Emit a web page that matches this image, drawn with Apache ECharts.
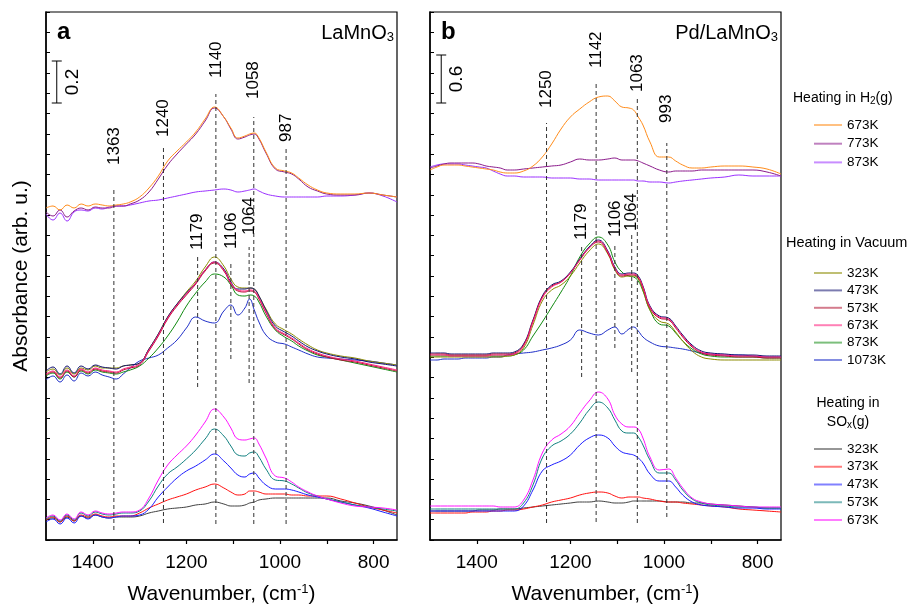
<!DOCTYPE html>
<html>
<head>
<meta charset="utf-8">
<script src="https://cdn.jsdelivr.net/npm/echarts@6/dist/echarts.min.js"></script>
<style>
  html, body { margin: 0; padding: 0; background: #fff; }
  #chart { width: 912px; height: 606px; }
</style>
</head>
<body>
<div id="chart"></div>
<script>
// wavenumber grid (cm-1), shared by every spectrum
const wn = [1500,1485,1470,1455,1440,1425,1410,1395,1380,1365,1350,1335,1320,1300,1280,1260,1240,1220,1200,1180,1160,1140,1120,1105,1090,1075,1065,1055,1045,1030,1010,990,975,960,940,920,900,870,840,810,780,750];

// absorbance, arb. u. (stacked offsets) -- panel a, LaMnO3
const aH2_673 = [332,334,330,335,332,336,334,336,335,334,335,336,338,343,352,364,379,389,398,408,421,433,423,412,402,404,406,407,402,388,372,369,367,362,355,350,347,346,346,347,345,343];
const aH2_773 = [328,324,330,323,329,332,330,333,332,332,334,334,336,340,348,361,375,386,396,406,419,432,423,411,401,403,405,406,401,387,371,368,366,361,353,349,346,345,345,347,345,343];
const aH2_873 = [326,320,327,319,328,330,329,332,331,333,334,334,335,337,339,340,342,344,346,348,349,350,351,350,348,349,350,351,349,346,344,343,343,343,343,343,344,344,345,347,344,338];

const aVac_323 = [168,171,165,172,166,172,170,174,172,172,172,174,175,177,191,206,223,236,248,259,273,283,274,261,253,252,252,251,244,231,216,210,206,201,195,190,187,184,182,179,177,175];
const aVac_473 = [169,173,166,174,167,174,171,175,173,172,171,174,175,177,191,206,223,236,247,257,270,278,271,258,251,251,252,251,244,230,214,208,204,199,193,189,186,183,181,178,176,174];
const aVac_573 = [165,168,162,169,163,170,167,171,169,168,167,170,172,175,189,204,221,234,245,256,269,277,269,256,249,248,249,248,241,227,211,205,201,196,190,186,183,180,178,175,172,169];
const aVac_673 = [166,169,163,170,164,171,168,172,170,169,168,171,173,176,190,205,222,235,246,257,270,278,270,257,250,249,250,249,242,228,212,206,202,197,191,187,184,181,179,176,173,170];
const aVac_873 = [164,167,161,168,163,169,166,170,168,167,166,168,170,174,182,192,204,218,234,247,258,266,263,255,245,244,245,244,238,224,210,203,199,194,189,185,183,180,177,174,171,168];
const aVac_1073 = [160,164,158,165,159,167,164,168,165,163,161,166,172,179,182,185,192,200,212,223,219,217,229,235,225,232,241,230,218,205,198,196,193,190,186,183,182,181,180,179,177,175];

const aSOx_323 = [20,22,18,23,19,24,22,25,23,22,23,23,23,24,27,29,31,32,33,35,36,38,36,34,34,35,37,38,40,41,42,42,42,42,42,42,42,39,37,34,30,25];
const aSOx_373 = [20,23,18,24,19,25,23,26,24,23,24,24,24,27,32,36,40,43,46,50,53,56,52,48,45,46,49,49,48,46,46,46,45,45,44,44,44,41,37,33,30,27];
const aSOx_473 = [18,21,16,22,17,24,21,25,23,22,23,24,24,25,31,43,53,62,69,74,80,86,79,72,65,63,66,67,62,55,51,51,50,48,45,43,41,38,35,32,28,24];
const aSOx_573 = [21,24,19,25,20,27,24,28,26,25,26,27,27,29,39,54,66,73,81,90,101,111,104,94,85,84,87,88,83,71,60,59,56,52,47,44,41,38,35,33,31,29];
const aSOx_673 = [22,25,20,26,21,28,25,29,27,26,27,28,28,30,42,60,75,85,94,105,118,131,123,112,101,100,101,102,96,82,64,62,58,53,48,44,41,37,34,33,32,30];

// panel b, Pd/LaMnO3
const bH2_673 = [370,373,375,375,375,374,373,372,371,370,368,367,367,369,374,383,396,411,423,431,438,443,444,439,433,432,430,423,415,398,383,383,379,375,372,372,373,374,374,373,371,366];
const bH2_773 = [372,374,376,377,377,377,377,376,374,373,372,370,370,371,372,373,374,375,378,381,380,380,381,382,380,380,380,379,377,374,370,368,369,369,369,370,370,370,370,370,368,364];
const bH2_873 = [373,375,376,376,376,375,374,373,372,369,366,364,364,363,363,363,362,362,362,361,361,360,360,360,360,360,360,359,359,358,358,357,358,359,360,361,362,363,365,364,364,364];

const bVac_323 = [183,183,183,183,183,183,183,183,183,183,183,184,185,192,215,239,250,255,264,277,289,296,286,270,263,264,264,261,250,230,219,216,208,199,189,183,181,180,180,180,180,180];
const bVac_473 = [187,187,187,186,186,186,186,186,186,187,187,187,188,196,220,244,255,259,268,281,293,300,289,273,266,267,267,264,254,234,224,222,214,205,195,189,187,186,185,185,184,184];
const bVac_573 = [186,186,186,185,185,185,185,185,185,186,186,186,187,195,219,243,254,258,267,280,292,298,287,271,264,265,265,262,252,232,222,220,212,203,193,187,185,184,183,183,182,182];
const bVac_673 = [185,185,185,184,184,184,184,184,184,185,185,185,186,194,218,242,253,258,267,280,292,299,288,272,265,266,266,263,253,233,223,221,213,204,194,188,186,185,184,184,183,183];
const bVac_873 = [184,184,184,184,184,184,184,184,184,184,184,184,185,190,204,218,233,248,264,283,296,303,295,278,268,264,263,259,249,230,216,214,207,199,191,186,184,183,183,183,182,182];
const bVac_1073 = [180,180,181,181,181,182,182,182,182,183,183,185,186,187,188,190,192,195,200,210,207,205,210,213,206,211,213,209,203,198,194,193,192,191,189,187,186,185,185,184,183,183];

const bSOx_323 = [29,29,29,29,29,29,29,30,30,30,31,31,31,32,33,34,35,36,37,38,38,39,38,37,37,38,39,39,39,39,39,38,38,38,37,37,36,35,34,33,32,32];
const bSOx_373 = [27,27,27,27,27,27,28,28,28,29,29,30,30,31,33,35,38,40,42,45,47,48,47,44,42,43,43,43,42,41,39,38,38,37,36,35,34,33,31,30,29,28];
const bSOx_473 = [29,29,29,29,29,29,29,29,29,29,29,29,29,34,50,69,75,79,85,95,102,105,102,94,88,86,85,82,77,66,59,59,53,45,38,35,34,33,32,32,31,31];
const bSOx_573 = [31,31,31,31,31,31,31,31,31,31,31,31,31,37,55,82,94,99,106,117,130,138,132,120,109,107,107,103,95,80,67,67,60,50,41,37,35,34,33,33,32,32];
const bSOx_673 = [34,34,34,34,34,34,34,34,34,34,33,33,33,40,60,87,100,106,114,127,139,148,141,125,116,113,113,111,102,83,70,71,62,52,42,38,36,35,34,33,33,33];

// band markers: position, dashed line from/to, where the label starts
const aPeakLabels = ['1363','1240','1140','1058','987','1179','1106','1064'];
const aPeakPos = [1355,1249,1137,1056,987,1176,1105,1066];
const aPeakFrom = [10,17,16,16,16,153,181,157];
const aPeakTo = [353,393,446,423,392,283,277,293];
const aPeakText = [375,403,462,441,398,290,291,305];

const bPeakLabels = ['1250','1142','1063','993','1179','1106','1064'];
const bPeakPos = [1251,1145,1057,994,1176,1105,1069];
const bPeakFrom = [17,18,17,23,163,192,168];
const bPeakTo = [417,457,443,397,293,297,307];
const bPeakText = [432,472,448,417,300,303,309];

// scale bars: [wavenumber, from, to]
const aScale = [1477, 437, 479], aScaleLabel = '0.2';
const bScale = [1476, 437, 485], bScaleLabel = '0.6';

const xTicks = [800,900,1000,1100,1200,1300,1400];
const xLabels = [800,1000,1200,1400];

const FONT = '"Liberation Sans", Arial, Helvetica, sans-serif';

var chart = echarts.init(document.getElementById('chart'));

function spectrum(name, vals, color, p) {
  return {
    type: 'line', name: name, xAxisIndex: p, yAxisIndex: p,
    data: wn.map(function (w, i) { return [w, vals[i]]; }),
    symbol: 'none', smooth: 0.45, silent: true,
    lineStyle: { width: 1, color: color }, itemStyle: { color: color }
  };
}

function peaks(p, pos, from, to, at, labels) {
  return {
    type: 'custom', xAxisIndex: p, yAxisIndex: p, z: 5, silent: true, clip: false,
    data: pos.map(function (x, i) { return [x, from[i], to[i], at[i]]; }),
    renderItem: function (params, api) {
      var x = api.value(0);
      var a = api.coord([x, api.value(1)]);
      var b = api.coord([x, api.value(2)]);
      var t = api.coord([x, api.value(3)]);
      return {
        type: 'group', children: [
          { type: 'line', shape: { x1: a[0], y1: a[1], x2: b[0], y2: b[1] },
            style: { stroke: '#333', lineWidth: 1, lineDash: [4, 3] } },
          { type: 'text', x: t[0], y: t[1], rotation: Math.PI / 2,
            style: { text: labels[params.dataIndex], align: 'left', verticalAlign: 'middle',
                     fontSize: 17, fontFamily: FONT, fill: '#000' } }
        ]
      };
    }
  };
}

function scaleBar(p, bar, label) {
  return {
    type: 'custom', xAxisIndex: p, yAxisIndex: p, z: 5, silent: true, clip: false,
    data: [bar],
    renderItem: function (params, api) {
      var a = api.coord([api.value(0), api.value(1)]);
      var b = api.coord([api.value(0), api.value(2)]);
      var st = { stroke: '#000', lineWidth: 1 };
      return {
        type: 'group', children: [
          { type: 'line', shape: { x1: a[0], y1: a[1], x2: b[0], y2: b[1] }, style: st },
          { type: 'line', shape: { x1: a[0] - 5, y1: a[1], x2: a[0] + 5, y2: a[1] }, style: st },
          { type: 'line', shape: { x1: b[0] - 5, y1: b[1], x2: b[0] + 5, y2: b[1] }, style: st },
          { type: 'text', x: a[0] + 16, y: (a[1] + b[1]) / 2, rotation: Math.PI / 2,
            style: { text: label, align: 'center', verticalAlign: 'middle',
                     fontSize: 19, fontFamily: FONT, fill: '#000' } }
        ]
      };
    }
  };
}

var series = [];
[0, 1].forEach(function (p) {
  var d = p === 0
    ? { h673: aH2_673, h773: aH2_773, h873: aH2_873,
        v323: aVac_323, v473: aVac_473, v573: aVac_573, v673: aVac_673, v873: aVac_873, v1073: aVac_1073,
        s323: aSOx_323, s373: aSOx_373, s473: aSOx_473, s573: aSOx_573, s673: aSOx_673 }
    : { h673: bH2_673, h773: bH2_773, h873: bH2_873,
        v323: bVac_323, v473: bVac_473, v573: bVac_573, v673: bVac_673, v873: bVac_873, v1073: bVac_1073,
        s323: bSOx_323, s373: bSOx_373, s473: bSOx_473, s573: bSOx_573, s673: bSOx_673 };
  series.push(
    spectrum('H2 873K', d.h873, '#9b30ff', p),
    spectrum('H2 773K', d.h773, '#8b1a8b', p),
    spectrum('H2 673K', d.h673, '#ff8c1a', p),
    spectrum('Vac 1073K', d.v1073, '#1f2fc8', p),
    spectrum('Vac 873K', d.v873, '#108a10', p),
    spectrum('Vac 323K', d.v323, '#8b8b00', p),
    spectrum('Vac 473K', d.v473, '#101070', p),
    spectrum('Vac 573K', d.v573, '#b01030', p),
    spectrum('Vac 673K', d.v673, '#ff1a7a', p),
    spectrum('SOx 323K', d.s323, '#404040', p),
    spectrum('SOx 373K', d.s373, '#ff1010', p),
    spectrum('SOx 473K', d.s473, '#1a1aff', p),
    spectrum('SOx 573K', d.s573, '#108080', p),
    spectrum('SOx 673K', d.s673, '#ff10ff', p)
  );
});
series.push(
  peaks(0, aPeakPos, aPeakFrom, aPeakTo, aPeakText, aPeakLabels),
  peaks(1, bPeakPos, bPeakFrom, bPeakTo, bPeakText, bPeakLabels),
  scaleBar(0, aScale, aScaleLabel),
  scaleBar(1, bScale, bScaleLabel)
);

function legend(top, gap, names) {
  return {
    orient: 'vertical', left: 814, top: top, padding: 0, itemGap: gap,
    itemWidth: 28, itemHeight: 2, icon: 'rect', selectedMode: false,
    data: names,
    formatter: function (n) { return n.split(' ')[1]; },
    itemStyle: { opacity: 0.55 },
    textStyle: { fontSize: 13.5, lineHeight: 12, color: '#000', fontFamily: FONT }
  };
}

function axisX(i) {
  return {
    gridIndex: i, type: 'value', min: 750, max: 1500, inverse: true,
    axisLine: { show: true, onZero: false, lineStyle: { color: '#000', width: 1.5 } },
    axisTick: { show: true, customValues: xTicks, length: 4, lineStyle: { color: '#000', width: 1.2 } },
    axisLabel: { customValues: xLabels, fontSize: 19, color: '#000', margin: 13, fontFamily: FONT,
                 formatter: function (v) { return String(v); } },
    splitLine: { show: false },
    name: 'Wavenumber, (cm{sup|-1})', nameLocation: 'middle', nameGap: 43,
    nameTextStyle: { fontSize: 21, color: '#000', fontFamily: FONT,
      rich: { sup: { fontSize: 13, color: '#000', fontFamily: FONT, padding: [0, 0, 10, 0] } } }
  };
}

function axisY(i) {
  var ax = {
    gridIndex: i, type: 'value', min: 0, max: 528, interval: 528 / 26,
    axisLine: { show: true, lineStyle: { color: '#000', width: 1.5 } },
    axisTick: { show: true, inside: true, length: 4, lineStyle: { color: '#000', width: 1 } },
    axisLabel: { show: false }, splitLine: { show: false }
  };
  if (i === 0) {
    ax.name = 'Absorbance (arb. u.)';
    ax.nameLocation = 'middle';
    ax.nameGap = 14;
    ax.nameTextStyle = { fontSize: 21, color: '#000', fontFamily: FONT };
  }
  return ax;
}

function txt(x, y, text, size, align, extra) {
  var st = { text: text, fontSize: size, fontFamily: FONT, fill: '#000', align: align, verticalAlign: 'middle' };
  for (var k in extra) st[k] = extra[k];
  return { type: 'text', x: x, y: y, style: st, silent: true };
}

var subRich = function (size) { return { sub: { fontSize: size, fontFamily: FONT, fill: '#000', padding: [9, 0, 0, 0] } }; };

chart.setOption({
  animation: false,
  backgroundColor: '#fff',
  textStyle: { fontFamily: FONT },
  grid: [
    { left: 46, top: 12, width: 351, height: 528, show: true, borderColor: '#000', borderWidth: 1.2, outerBoundsMode: 'none' },
    { left: 430, top: 12, width: 351, height: 528, show: true, borderColor: '#000', borderWidth: 1.2, outerBoundsMode: 'none' }
  ],
  xAxis: [axisX(0), axisX(1)],
  yAxis: [axisY(0), axisY(1)],
  legend: [
    legend(118, 4.7, ['H2 673K', 'H2 773K', 'H2 873K']),
    legend(266, 3.4, ['Vac 323K', 'Vac 473K', 'Vac 573K', 'Vac 673K', 'Vac 873K', 'Vac 1073K']),
    legend(442, 3.75, ['SOx 323K', 'SOx 373K', 'SOx 473K', 'SOx 573K', 'SOx 673K'])
  ],
  graphic: [
    txt(57, 32, 'a', 24, 'left', { fontWeight: 'bold' }),
    txt(394, 33, 'LaMnO{sub|3}', 20, 'right', { rich: subRich(13) }),
    txt(441, 32, 'b', 24, 'left', { fontWeight: 'bold' }),
    txt(778, 33, 'Pd/LaMnO{sub|3}', 20, 'right', { rich: subRich(13) }),
    txt(793, 98, 'Heating in H{sub|2}(g)', 14, 'left', { rich: { sub: { fontSize: 10, fontFamily: FONT, fill: '#000', padding: [7, 0, 0, 0] } } }),
    txt(786, 243, 'Heating in Vacuum', 14.5, 'left', {}),
    txt(848, 403, 'Heating in', 14, 'center', {}),
    txt(848, 422, 'SO{sub|x}(g)', 14, 'center', { rich: { sub: { fontSize: 10, fontFamily: FONT, fill: '#000', padding: [7, 0, 0, 0] } } })
  ],
  series: series
});
</script>
</body>
</html>
